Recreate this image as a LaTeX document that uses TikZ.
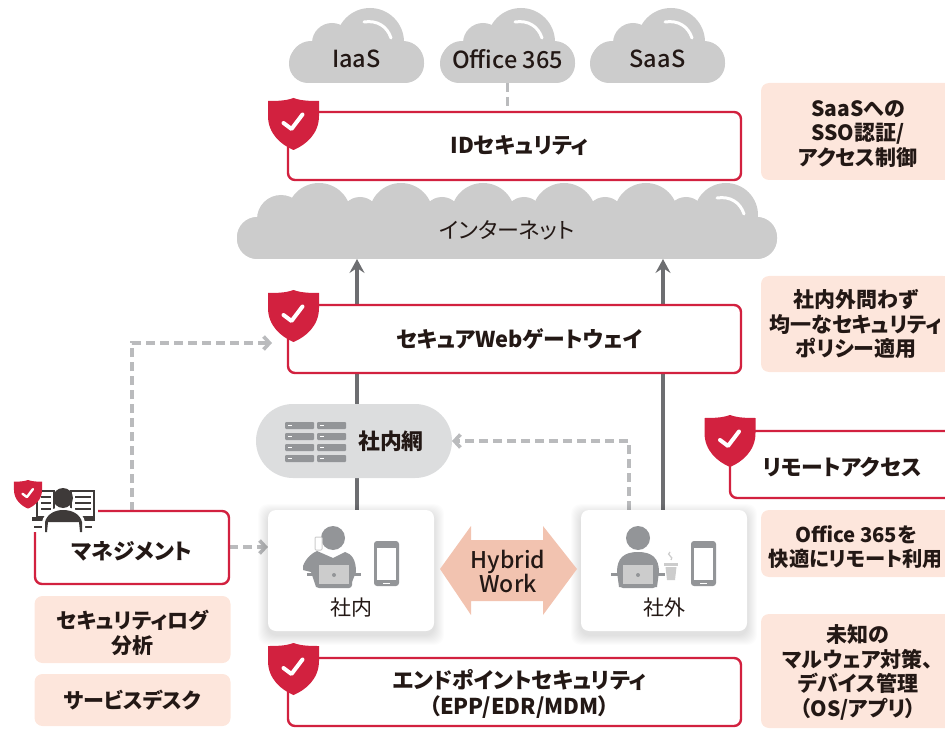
\documentclass[tikz,border=0pt]{standalone}
\usepackage{fontspec}
\setmainfont{Noto Sans CJK JP}[RawFeature={+palt}]
\newfontfamily\medfont{Noto Sans CJK JP Medium}[RawFeature={+palt}]
\usetikzlibrary{arrows.meta}
\newcommand{\dn}[1]{\rule{0pt}{#1pt}}
\newcommand{\rt}{\hspace*{10pt}}
\definecolor{redc}{HTML}{D2213F}
\definecolor{peach}{HTML}{FDE6DC}
\definecolor{cloudc}{HTML}{CCCCCC}
\definecolor{pillc}{HTML}{DCDDDE}
\definecolor{dashc}{HTML}{BABBBD}
\definecolor{linec}{HTML}{6D6E71}
\definecolor{iconc}{HTML}{939598}
\definecolor{darkc}{HTML}{3E3A39}
\definecolor{txt}{HTML}{231815}
\definecolor{hyb}{HTML}{F2C3B0}
\pgfdeclarelayer{bg}
\pgfsetlayers{bg,main}
\tikzset{
  redbox/.style={draw=redc,line width=2.4pt,fill=white,rounded corners=7pt,inner sep=0pt,outer sep=0pt,align=center,text=txt,font=\bfseries\fontsize{21.8}{26}\selectfont},
  peachbox/.style={fill=peach,rounded corners=8pt,inner sep=0pt,outer sep=0pt,align=center,text=txt,font=\bfseries\fontsize{21}{24.4}\selectfont},
  card/.style={fill=white,rounded corners=8pt,minimum width=166pt,minimum height=121pt,inner sep=0pt,outer sep=0pt},
  lbl/.style={inner sep=0pt,outer sep=0pt,align=center,text=txt,font=\bfseries\fontsize{21.8}{26}\selectfont},
  plain/.style={inner sep=0pt,outer sep=0pt,align=center,text=txt,font=\fontsize{21}{25}\selectfont},
  cloudlbl/.style={inner sep=0pt,outer sep=0pt,minimum width=135pt,minimum height=48pt,text=txt,font=\medfont\fontsize{23.5}{28}\selectfont},
  solidline/.style={draw=linec,line width=4pt},
  solidarrow/.style={solidline,-{Stealth[length=14pt,width=15pt,inset=5pt]}},
  dashline/.style={draw=dashc,line width=3.8pt,dash pattern=on 9pt off 5pt},
  dasharrow/.style={dashline,-{Straight Barb[length=6pt,width=13pt,line width=3.6pt]}},
  shield/.pic={
    \fill[redc] (0,0) .. controls (-8,3) and (-18,3) .. (-25.5,3) -- (-25.5,18)
      .. controls (-25.5,36) and (-12,47) .. (0,52)
      .. controls (12,47) and (25.5,36) .. (25.5,18) -- (25.5,3)
      .. controls (18,3) and (8,3) .. (0,0) -- cycle;
    \draw[white,line width=#1,line cap=round,line join=round] (-10,25) -- (-2,31) -- (9,16.5);
  },
  smallcloud/.pic={
    \fill[cloudc,rounded corners=19pt] (0,-39) rectangle (135,0);
    \fill[cloudc] (43,-40) circle[radius=20];
    \fill[cloudc] (81,-41) circle[radius=34];
    \fill[cloudc] (114,-21) circle[radius=21];
    \fill[cloudc] (22,-21) circle[radius=21];
    \draw[white,line width=3pt,line cap=round] (75,-61) .. controls (88,-63) and (98,-57) .. (102,-45);
  },
  phone/.pic={
    \fill[iconc,rounded corners=3pt] (0,0) rectangle (25,45);
    \fill[white] (3,7) rectangle (22,39);
    \fill[white] (9,41.5) rectangle (16,42.5);
  },
  laptop/.pic={
    \fill[iconc,rounded corners=3pt] (-18,-9) rectangle (18,15);
    \fill[cloudc] (-15,-8) rectangle (15,11);
    \fill[iconc] (0,2) circle[radius=2];
    \fill[iconc] (-27,0) rectangle (-18,3);
    \fill[iconc] (18,0) rectangle (27,3);
  }
}
\begin{document}
\begin{tikzpicture}[x=1pt,y=-1pt]
\useasboundingbox (0,0) rectangle (945,735);

% small clouds
\pic at (289,83) {smallcloud};
\pic at (440,83) {smallcloud};
\pic at (590,83) {smallcloud};
\node[cloudlbl] (iaas) at (356.5,59) {IaaS};
\node[cloudlbl] (o365) at (507.5,59) {Office 365};
\node[cloudlbl] (saas) at (657.5,59) {SaaS};

% internet cloud
\fill[cloudc,rounded corners=20pt] (237,217) rectangle (777,259);
\fill[cloudc] (258,214) rectangle (756,259);
\foreach \cx in {319,401,483,564,646,726} \fill[cloudc] (\cx,215) circle[radius=32];
\foreach \cx in {360,442,524,605,686} \fill[cloudc] (\cx,216) circle[radius=19];
\fill[cloudc] (281,219) circle[radius=24];
\fill[cloudc] (258,238) circle[radius=21];
\fill[cloudc] (756,238) circle[radius=21];
\draw[white,line width=3pt,line cap=round] (717,198) .. controls (730,196) and (740,202) .. (744,214);
\node[inner sep=0pt,outer sep=0pt,minimum width=540pt,minimum height=76pt,text=txt,font=\fontsize{22}{25}\selectfont] (inet) at (507,221) {\rule{0pt}{37pt}インターネット};

% boxes
\node[redbox,minimum width=453pt,minimum height=68pt] (idsec) at (514.5,146) {\rt IDセキュリティ};
\node[redbox,minimum width=453pt,minimum height=68pt] (web) at (514.5,339) {\rt セキュアWebゲートウェイ};
\node[redbox,minimum width=453pt,minimum height=68pt] (epp) at (514.5,692) {\dn{23}\rt エンドポイントセキュリティ\\\rt （EPP/EDR/MDM）};
\node[redbox,minimum width=194pt,minimum height=73pt] (mgmt) at (132,547.5) {\dn{26}マネジメント};
\node[redbox,minimum width=260pt,minimum height=67pt] (remote) at (860,464.5) {};
\node[lbl] (remotelbl) at (842,467) {リモートアクセス};

% peach boxes
\node[peachbox,minimum width=194pt,minimum height=97pt] (p1) at (858,131.5) {\dn{20.5}SaaSへの\\SSO認証/\\アクセス制御};
\node[peachbox,minimum width=190pt,minimum height=96pt] (p2) at (856,324) {社内外問わず\\均一なセキュリティ\\ポリシー適用};
\node[peachbox,minimum width=190pt,minimum height=67pt,font=\bfseries\fontsize{20.3}{24.4}\selectfont] (p3) at (856,543.5) {\dn{24}Office 365を\\快適にリモート利用};
\node[peachbox,minimum width=194pt,minimum height=114pt] (p4) at (858,671) {\dn{21}未知の\\マルウェア対策、\\デバイス管理\\（OS/アプリ）};
\node[peachbox,minimum width=196pt,minimum height=67pt] (p5) at (132.5,629.5) {\dn{25}セキュリティログ\\分析};
\node[peachbox,minimum width=196pt,minimum height=52pt] (p6) at (132.5,700) {サービスデスク};
\fill[peach] (940,276) rectangle (946,372);
\fill[peach] (940,510) rectangle (946,577);

% pill
\node[fill=pillc,rounded corners=37pt,minimum width=196pt,minimum height=74pt,inner sep=0pt,outer sep=0pt] (net) at (354,441) {};
\foreach \yy in {422,433,444,455}{
  \fill[iconc,rounded corners=1pt] (285,\yy) rectangle (314,\yy+7);
  \fill[iconc,rounded corners=1pt] (317,\yy) rectangle (346,\yy+7);
  \fill[white] (288,\yy+3) rectangle (292,\yy+4);
  \fill[white] (320,\yy+3) rectangle (324,\yy+4);
}
\node[lbl] (netlbl) at (391,441) {社内網};

% soft card shadows
\foreach \i in {1,...,10}{
  \fill[black,opacity=.011,rounded corners=10pt] (268-\i,510+4-\i) rectangle (434+\i,631+4+\i);
  \fill[black,opacity=.011,rounded corners=10pt] (581-\i,510+4-\i) rectangle (747+\i,631+4+\i);
}
\node[card] (inner) at (351,570.5) {};
\node[card] (outer) at (664,570.5) {};
\node[plain] (innerlbl) at (351,608) {社内};
\node[plain] (outerlbl) at (664,608) {社外};

% inner person
\fill[iconc] (333,538) circle[radius=12];
\fill[white,draw=cloudc,line width=1pt,rounded corners=1pt] (315,537) rectangle (322,550);
\fill[iconc] (303,566) .. controls (306,558) and (312,553) .. (317,551) -- (333,558) -- (345,552)
  .. controls (352,554) and (356,560) .. (356,572) -- (350,587) -- (316,587) -- (311,572) -- (303,570) -- cycle;
\pic at (334,573) {laptop};
\pic at (374,541) {phone};

% outer person
\fill[iconc] (638,538) circle[radius=12];
\fill[iconc] (617,572) .. controls (617,558) and (624,552) .. (638,552)
  .. controls (652,552) and (659,558) .. (659,572) -- (657,587) -- (619,587) -- cycle;
\pic at (638,573) {laptop};
\fill[cloudc] (664,563) rectangle (678,566);
\fill[cloudc] (665.5,567) -- (676.5,567) -- (675,580) -- (667,580) -- cycle;
\draw[cloudc,line width=1.2pt] (670,552) .. controls (665,555) and (675,557) .. (671,560);
\pic at (691,541) {phone};

% hybrid arrow
\fill[hyb] (440,569) -- (471,526) -- (471,540) -- (543,540) -- (543,526) -- (577,569)
  -- (543,615) -- (543,601) -- (471,601) -- (471,615) -- cycle;
\node[inner sep=0pt,outer sep=0pt,align=center,text=txt,font=\medfont\fontsize{23}{24}\selectfont] (hybrid) at (508,571) {Hybrid\\Work};

% management icon
\fill[white] (30,480) rectangle (98,532);
\draw[darkc,line width=1.6pt] (37,491) rectangle (54,517);
\draw[darkc,line width=1.6pt] (71,491) rectangle (94,517);
\fill[darkc] (32,517) rectangle (95,520.5);
\foreach \yy in {497,503,509}{
  \draw[darkc,line width=1.2pt] (41,\yy) -- (51,\yy);
  \draw[darkc,line width=1.2pt] (75,\yy) -- (91,\yy);
}
\draw[darkc,line width=1.2pt] (34,527) -- (43,527);
\draw[darkc,line width=1.2pt] (84,527) -- (92,527);
\fill[white] (42,533) -- (42,522) .. controls (44,512) and (54,507) .. (63,507)
  .. controls (73,507) and (83,512) .. (85,522) -- (85,533) -- cycle;
\fill[darkc] (45,532) -- (45,522) .. controls (47,514) and (55,510) .. (63,510)
  .. controls (72,510) and (80,514) .. (82,522) -- (82,532) -- (80,532) -- (79,522) -- (48,522) -- (47,532) -- cycle;
\fill[darkc] (63,498) circle[radius=10];

% shields
\pic at (293.5,98) {shield=4pt};
\pic at (293.5,290) {shield=4pt};
\pic at (293.5,643) {shield=4pt};
\pic at (730,415) {shield=4pt};
\pic[scale=.55] at (28,480) {shield=2.4pt};

% connectors
\coordinate (xa) at (357,0);
\coordinate (xb) at (663,0);
\coordinate (xc) at (132,0);
\coordinate (xd) at (629,0);
\coordinate (ya) at (0,343);
\coordinate (yb) at (0,547);
\coordinate (yc) at (0,441);
\begin{pgfonlayer}{bg}
\draw[dashline] (o365.south) -- (idsec.north -| o365.south);
\draw[solidarrow] (net.north -| xa) -- (inet.south -| xa);
\draw[solidline] (inner.north -| xa) -- (net.south -| xa);
\draw[solidarrow] (outer.north -| xb) -- (inet.south -| xb);
\draw[dasharrow,shorten >=16pt] (mgmt.north -| xc) -- (xc |- ya) -- (web.west |- ya);
\draw[dasharrow] (mgmt.east |- yb) -- (inner.west |- yb);
\draw[dasharrow] (outer.north -| xd) -- (xd |- yc) -- (net.east |- yc);
\end{pgfonlayer}
\end{tikzpicture}
\end{document}
